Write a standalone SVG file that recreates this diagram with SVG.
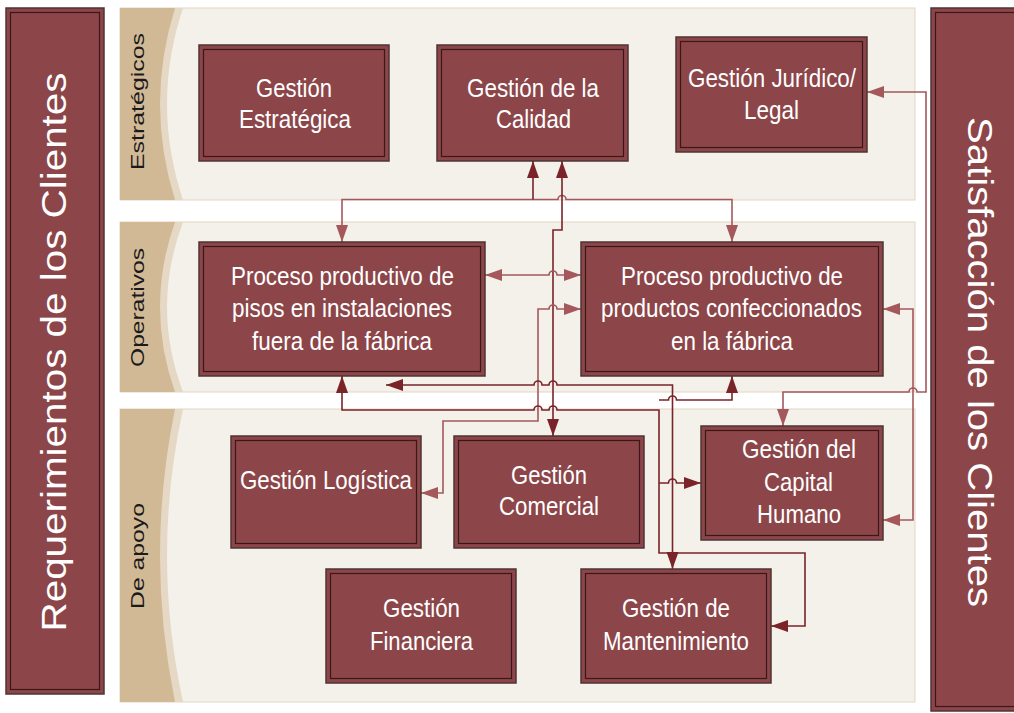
<svg xmlns="http://www.w3.org/2000/svg" width="1014" height="713" viewBox="0 0 1014 713">
<style>
.bg{fill:#F4F0EA;stroke:#E3D6C4;stroke-width:1}
.stripe{fill:#E5D8C5}
.tan{fill:#D2B996}
.box{fill:#8C4649;stroke:#4d3435;stroke-width:1.5}
.inner{fill:none;stroke:#3b1719;stroke-width:1.2}
.t{font-family:"Liberation Sans",Arial,sans-serif;font-size:26px;fill:#FFFFFF;text-anchor:middle}
.lab{font-family:"Liberation Sans",Arial,sans-serif;font-size:19px;fill:#1a1a1a;text-anchor:middle}
.side{font-family:"Liberation Sans",Arial,sans-serif;font-size:35px;fill:#FFFFFF;text-anchor:middle}
.dk{fill:none;stroke:#7A2328;stroke-width:1.6}
.lt{fill:none;stroke:#A4585C;stroke-width:1.6}
.dkm{marker-start:url(#ad);marker-end:url(#ad)}
.ltm{marker-start:url(#al);marker-end:url(#al)}
</style>
<defs>
<marker id="ad" markerUnits="userSpaceOnUse" markerWidth="18" markerHeight="13" refX="17" refY="6" orient="auto-start-reverse"><path d="M0,0 L17,6 L0,12 Z" fill="#7A2328"/></marker>
<marker id="al" markerUnits="userSpaceOnUse" markerWidth="18" markerHeight="13" refX="17" refY="6" orient="auto-start-reverse"><path d="M0,0 L17,6 L0,12 Z" fill="#A4585C"/></marker>
</defs>
<rect width="1014" height="713" fill="#FFFFFF"/>

<g id="band-estrategicos">
<rect class="bg" x="120" y="8" width="795" height="192"/>
<path class="stripe" d="M120,8 H183 Q151,104 183,200 H120 Z"/>
<path class="tan" d="M120,8 H175 Q145,104 175,200 H120 Z"/>
<text class="lab" transform="translate(144,101.5) rotate(-90)" textLength="137" lengthAdjust="spacingAndGlyphs">Estratégicos</text>
</g>
<g id="band-operativos">
<rect class="bg" x="120" y="222" width="795" height="170"/>
<path class="stripe" d="M120,222 H183 Q151,307 183,392 H120 Z"/>
<path class="tan" d="M120,222 H175 Q145,307 175,392 H120 Z"/>
<text class="lab" transform="translate(144,307.5) rotate(-90)" textLength="119" lengthAdjust="spacingAndGlyphs">Operativos</text>
</g>
<g id="band-apoyo">
<rect class="bg" x="120" y="409" width="795" height="293"/>
<path class="stripe" d="M120,409 H183 Q151,555 183,702 H120 Z"/>
<path class="tan" d="M120,409 H175 Q145,555 175,702 H120 Z"/>
<text class="lab" transform="translate(144,556) rotate(-90)" textLength="106" lengthAdjust="spacingAndGlyphs">De apoyo</text>
</g>

<g id="requerimientos">
<rect class="box" x="6" y="8" width="98" height="686"/>
<rect class="inner" x="10.5" y="12.5" width="89" height="677"/>
<text class="side" transform="translate(66,352) rotate(-90)" textLength="559" lengthAdjust="spacingAndGlyphs">Requerimientos de los Clientes</text>
</g>
<g id="satisfaccion">
<rect class="box" x="931" y="8" width="90" height="703"/>
<rect class="inner" x="935.5" y="12.5" width="81" height="694"/>
<text class="side" transform="translate(968,362) rotate(90)" textLength="490" lengthAdjust="spacingAndGlyphs">Satisfacción de los Clientes</text>
</g>

<g id="connectors">
<path class="lt ltm" d="M342,242 V199.5 H558 A4,4 0 0 1 566,199.5 H732 V242"/>
<path class="dk" d="M533,199.5 V161" marker-end="url(#ad)"/>
<path class="dk dkm" d="M553,436 V230 H562 V161"/>
<path class="lt ltm" d="M485,275 H549 A4,4 0 0 1 557,275 H581"/>
<path class="lt ltm" d="M421,493 H443 V421 H538 V309 H549 A4,4 0 0 1 557,309 H581"/>
<path class="dk dkm" d="M386,385 H534 A4,4 0 0 1 542,385 H549 A4,4 0 0 1 557,385 H672.5 V569"/>
<path class="dk dkm" d="M342,376 V410 H534 A4,4 0 0 1 542,410 H549 A4,4 0 0 1 557,410 H659 V553 H805 V626 H771"/>
<path class="dk" d="M659,400 H668.5 A4,4 0 0 1 676.5,400 H732 V376" marker-end="url(#ad)"/>
<path class="dk" d="M659,483 H668.5 A4,4 0 0 1 676.5,483 H701" marker-end="url(#ad)"/>
<path class="lt ltm" d="M867,92 H926 V392 H917 A4,4 0 0 0 909,392 H783 V426"/>
<path class="lt ltm" d="M883,309 H913 V520 H883"/>
</g>

<g id="gestion-estrategica">
<rect class="box" x="199" y="45" width="190" height="116"/>
<rect class="inner" x="203.5" y="49.5" width="181" height="107"/>
<text class="t" x="294" y="97" textLength="76" lengthAdjust="spacingAndGlyphs">Gestión</text>
<text class="t" x="295" y="128" textLength="112" lengthAdjust="spacingAndGlyphs">Estratégica</text>
</g>
<g id="gestion-calidad">
<rect class="box" x="437" y="45" width="191" height="116"/>
<rect class="inner" x="441.5" y="49.5" width="182" height="107"/>
<text class="t" x="533" y="97" textLength="132" lengthAdjust="spacingAndGlyphs">Gestión de la</text>
<text class="t" x="533.5" y="128" textLength="75" lengthAdjust="spacingAndGlyphs">Calidad</text>
</g>
<g id="gestion-juridico">
<rect class="box" x="676" y="37" width="191" height="115"/>
<rect class="inner" x="680.5" y="41.5" width="182" height="106"/>
<text class="t" x="772" y="87" textLength="168" lengthAdjust="spacingAndGlyphs">Gestión Jurídico/</text>
<text class="t" x="771.5" y="119" textLength="55" lengthAdjust="spacingAndGlyphs">Legal</text>
</g>
<g id="proceso-pisos">
<rect class="box" x="199" y="242" width="286" height="134"/>
<rect class="inner" x="203.5" y="246.5" width="277" height="125"/>
<text class="t" x="342.5" y="285" textLength="223" lengthAdjust="spacingAndGlyphs">Proceso productivo de</text>
<text class="t" x="342" y="317" textLength="220" lengthAdjust="spacingAndGlyphs">pisos en instalaciones</text>
<text class="t" x="342" y="350" textLength="180" lengthAdjust="spacingAndGlyphs">fuera de la fábrica</text>
</g>
<g id="proceso-productos">
<rect class="box" x="581" y="242" width="302" height="134"/>
<rect class="inner" x="585.5" y="246.5" width="293" height="125"/>
<text class="t" x="732" y="285" textLength="222" lengthAdjust="spacingAndGlyphs">Proceso productivo de</text>
<text class="t" x="731.5" y="317" textLength="261" lengthAdjust="spacingAndGlyphs">productos confeccionados</text>
<text class="t" x="732" y="350" textLength="122" lengthAdjust="spacingAndGlyphs">en la fábrica</text>
</g>
<g id="gestion-logistica">
<rect class="box" x="231" y="436" width="190" height="112"/>
<rect class="inner" x="235.5" y="440.5" width="181" height="103"/>
<text class="t" x="326" y="489" textLength="172" lengthAdjust="spacingAndGlyphs">Gestión Logística</text>
</g>
<g id="gestion-comercial">
<rect class="box" x="454" y="436" width="190" height="112"/>
<rect class="inner" x="458.5" y="440.5" width="181" height="103"/>
<text class="t" x="549" y="484" textLength="76" lengthAdjust="spacingAndGlyphs">Gestión</text>
<text class="t" x="549" y="515" textLength="100" lengthAdjust="spacingAndGlyphs">Comercial</text>
</g>
<g id="gestion-capital-humano">
<rect class="box" x="701" y="426" width="182" height="114"/>
<rect class="inner" x="705.5" y="430.5" width="173" height="105"/>
<text class="t" x="799" y="458" textLength="114" lengthAdjust="spacingAndGlyphs">Gestión del</text>
<text class="t" x="798.5" y="491" textLength="69" lengthAdjust="spacingAndGlyphs">Capital</text>
<text class="t" x="799" y="523" textLength="84" lengthAdjust="spacingAndGlyphs">Humano</text>
</g>
<g id="gestion-financiera">
<rect class="box" x="326" y="569" width="190" height="114"/>
<rect class="inner" x="330.5" y="573.5" width="181" height="105"/>
<text class="t" x="421.5" y="617" textLength="77" lengthAdjust="spacingAndGlyphs">Gestión</text>
<text class="t" x="421.5" y="650" textLength="103" lengthAdjust="spacingAndGlyphs">Financiera</text>
</g>
<g id="gestion-mantenimiento">
<rect class="box" x="581" y="569" width="190" height="114"/>
<rect class="inner" x="585.5" y="573.5" width="181" height="105"/>
<text class="t" x="676" y="617" textLength="108" lengthAdjust="spacingAndGlyphs">Gestión de</text>
<text class="t" x="676" y="650" textLength="146" lengthAdjust="spacingAndGlyphs">Mantenimiento</text>
</g>
</svg>
